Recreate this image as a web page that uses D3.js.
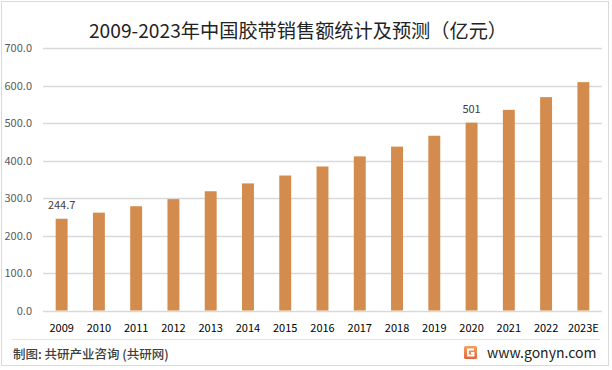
<!DOCTYPE html>
<html>
<head>
<meta charset="utf-8">
<script src="https://cdn.jsdelivr.net/npm/d3@7"></script>
<style>
  body { margin: 0; background: #fff; }
  svg { display: block; font-family: "Microsoft YaHei", "Noto Sans CJK SC", sans-serif; }
</style>
</head>
<body>
<svg id="chart"></svg>
<script>
// 2009-2023 China adhesive tape sales (100M yuan)
const years = ["2009", "2010", "2011", "2012", "2013", "2014", "2015", "2016",
               "2017", "2018", "2019", "2020", "2021", "2022", "2023E"];
const sales = [244.7, 261, 278, 297, 318, 339, 360, 384, 411, 437, 466, 501, 535, 569, 609];
const labelled = { "2009": "244.7", "2020": "501" };
const yTicks = [0, 100, 200, 300, 400, 500, 600, 700];

const width = 612, height = 370;
const margin = { top: 48, right: 10, bottom: 59, left: 43 };

const svg = d3.select('#chart')
    .attr('width', width)
    .attr('height', height);

// outer frame
svg.append('rect')
    .attr('x', 1.5).attr('y', 1.5)
    .attr('width', width - 5).attr('height', height - 6)
    .attr('fill', 'none')
    .attr('stroke', '#d9d9d9');

// title
svg.append('text')
    .attr('x', 298).attr('y', 38)
    .attr('text-anchor', 'middle')
    .attr('font-size', '19.2px')
    .attr('fill', '#222')
    .text('2009-2023年中国胶带销售额统计及预测（亿元）');

const x = d3.scaleBand()
    .domain(years)
    .range([margin.left, width - margin.right])
    .paddingInner(0.68)
    .paddingOuter(0.34);

const y = d3.scaleLinear()
    .domain([0, 700])
    .range([height - margin.bottom - 0.5, margin.top]);

// gridlines
svg.append('g')
    .selectAll('line')
    .data(yTicks)
    .join('line')
    .attr('x1', margin.left)
    .attr('x2', width - margin.right)
    .attr('y1', d => Math.round(y(d)) + 0.5)
    .attr('y2', d => Math.round(y(d)) + 0.5)
    .attr('stroke', '#d9d9d9')
    .attr('stroke-width', 1.3);

// y labels
svg.append('g')
    .selectAll('text')
    .data(yTicks)
    .join('text')
    .attr('x', 32)
    .attr('y', d => y(d) + 4)
    .attr('text-anchor', 'end')
    .attr('font-size', '11px')
    .attr('fill', '#595959')
    .text(d => d.toFixed(1));

// bars
svg.append('g')
    .selectAll('rect')
    .data(years)
    .join('rect')
    .attr('x', d => x(d))
    .attr('width', x.bandwidth())
    .attr('y', (d, i) => y(sales[i]))
    .attr('height', (d, i) => y(0) - y(sales[i]))
    .attr('fill', '#d48c4e');

// data labels
svg.append('g')
    .selectAll('text')
    .data(years.filter(d => labelled[d]))
    .join('text')
    .attr('x', d => x(d) + x.bandwidth() / 2)
    .attr('y', d => y(sales[years.indexOf(d)]) - 10)
    .attr('text-anchor', 'middle')
    .attr('font-size', '11px')
    .attr('fill', '#404040')
    .text(d => labelled[d]);

// x labels
svg.append('g')
    .selectAll('text')
    .data(years)
    .join('text')
    .attr('x', d => x(d) + x.bandwidth() / 2)
    .attr('y', 332)
    .attr('text-anchor', 'middle')
    .attr('font-size', '11px')
    .attr('fill', '#000')
    .text(d => d);

// footer separator
svg.append('line')
    .attr('x1', 12).attr('x2', 600)
    .attr('y1', 339.5).attr('y2', 339.5)
    .attr('stroke', '#e3e3e3');

svg.append('text')
    .attr('x', 13).attr('y', 359)
    .attr('font-size', '12.5px')
    .attr('font-weight', 500)
    .attr('fill', '#404040')
    .text('制图: 共研产业咨询 (共研网)');

// logo
const grad = svg.append('defs').append('linearGradient')
    .attr('id', 'logoGrad').attr('x1', 0).attr('y1', 0).attr('x2', 0).attr('y2', 1);
grad.append('stop').attr('offset', '0%').attr('stop-color', '#f4a261');
grad.append('stop').attr('offset', '100%').attr('stop-color', '#e8643a');
const logo = svg.append('g').attr('transform', 'translate(464,346)');
logo.append('rect').attr('width', 13).attr('height', 13).attr('rx', 1.5).attr('fill', 'url(#logoGrad)');
logo.append('path')
    .attr('d', 'M10,3.5 H4 V9.5 H9.5 V7 H7')
    .attr('fill', 'none').attr('stroke', '#fff').attr('stroke-width', 1.8);

svg.append('text')
    .attr('x', 487).attr('y', 358)
    .attr('font-size', '14px')
    .attr('fill', '#222')
    .text('www.gonyn.com');
</script>
</body>
</html>
